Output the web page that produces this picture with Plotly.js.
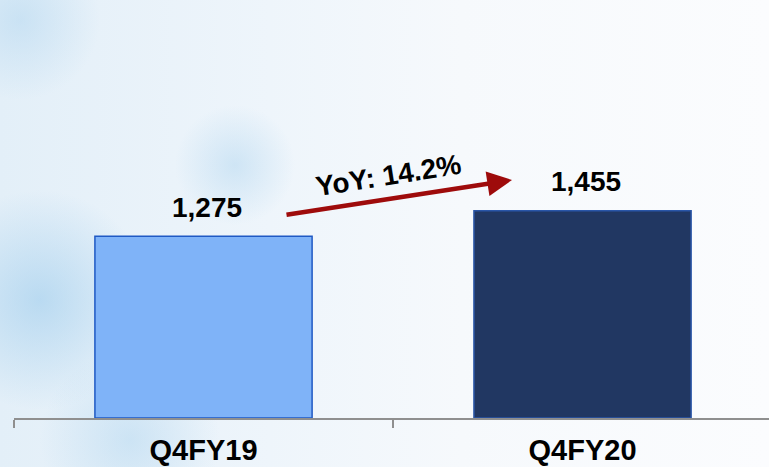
<!DOCTYPE html>
<html>
<head>
<meta charset="utf-8">
<script src="https://cdn.plot.ly/plotly-3.0.1.min.js"></script>
<style>
  html, body { margin: 0; padding: 0; }
  body {
    width: 769px; height: 467px; overflow: hidden;
    background:
      radial-gradient(circle at 40px 300px, rgba(150,200,235,0.55) 0, rgba(150,200,235,0.0) 110px),
      radial-gradient(circle at 235px 165px, rgba(170,210,238,0.45) 0, rgba(170,210,238,0.0) 60px),
      radial-gradient(circle at 20px 20px, rgba(170,210,238,0.45) 0, rgba(170,210,238,0.0) 80px),
      radial-gradient(circle at 130px 440px, rgba(170,210,238,0.45) 0, rgba(170,210,238,0.0) 90px),
      linear-gradient(to right, #e3eff8 0%, #eef5fb 35%, #f6f9fc 60%, #fbfcfe 100%);
  }
  #chart { width: 769px; height: 467px; }
</style>
</head>
<body>
<div id="chart"></div>
<script>
const categories = ["Q4FY19", "Q4FY20"];
const values = [1275, 1455];
const valueLabels = ["1,275", "1,455"];
const growthLabel = "YoY: 14.2%";

const barColors = ["#7fb3f8", "#213762"];
const barLines = ["#1f59c4", "#2a56a8"];

const trace = {
  type: "bar",
  x: categories,
  y: values,
  width: 0.573,
  marker: { color: barColors, line: { color: barLines, width: 1.5 } },
  hoverinfo: "none"
};

const annotations = categories.map((c, i) => ({
  x: c, y: values[i], xref: "x", yref: "y",
  text: valueLabels[i], showarrow: false,
  yanchor: "middle", yshift: 29, xshift: 3,
  font: { family: "Liberation Sans, Arial, sans-serif", size: 28, color: "#000", weight: "bold" }
}));

// growth arrow
annotations.push({
  xref: "paper", yref: "paper", x: 0.6596, y: 0.5694,
  axref: "pixel", ayref: "pixel", ax: -227, ay: 35,
  showarrow: true, text: "", arrowhead: 2, arrowsize: 1.1, arrowwidth: 4.5, arrowcolor: "#9e0b0b"
});
annotations.push({
  xref: "paper", yref: "paper", x: 0.4960, y: 0.581,
  text: growthLabel, showarrow: false, textangle: -9,
  font: { family: "Liberation Sans, Arial, sans-serif", size: 28, color: "#000", weight: "bold" }
});

const layout = {
  width: 769, height: 467,
  margin: { l: 14, r: 0, t: 0, b: 49 },
  paper_bgcolor: "rgba(0,0,0,0)",
  plot_bgcolor: "rgba(0,0,0,0)",
  showlegend: false,
  xaxis: {
    type: "category",
    range: [-0.5, 1.492],
    showline: true, linecolor: "#8f8f8f", linewidth: 1.5,
    ticks: "outside", tickson: "boundaries", ticklen: 8, tickcolor: "#8f8f8f", tickwidth: 1.5,
    showgrid: false, zeroline: false,
    ticklabelstandoff: 6,
    tickfont: { family: "Liberation Sans, Arial, sans-serif", size: 29, color: "#000", weight: "bold" }
  },
  yaxis: {
    range: [0, 2933],
    visible: false, showgrid: false, zeroline: false
  },
  annotations: annotations
};

Plotly.newPlot("chart", [trace], layout, { displayModeBar: false, staticPlot: true });
</script>
</body>
</html>
